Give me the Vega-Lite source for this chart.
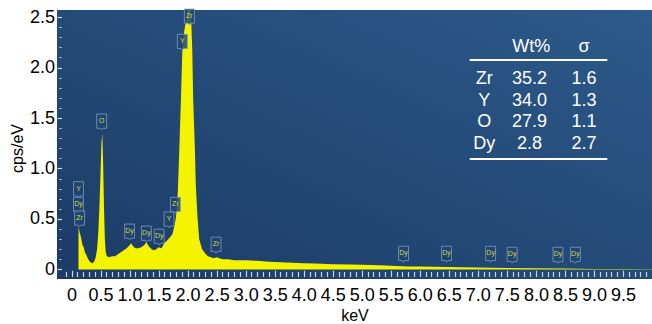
{
  "$schema": "https://vega.github.io/schema/vega-lite/v6.json",
  "width": 595,
  "height": 269,
  "autosize": "none",
  "padding": {"left": 57, "top": 10, "right": 0, "bottom": 45},
  "background": "white",
  "config": {
    "font": "Liberation Sans",
    "view": {
      "stroke": null,
      "fill": {"gradient": "linear", "x1": 0, "y1": 1, "x2": 1, "y2": 0,
        "stops": [{"offset": 0, "color": "#1c3b66"}, {"offset": 1, "color": "#2c5a8a"}]}
    },
    "axis": {
      "labelFont": "Liberation Sans", "labelFontSize": 18, "labelColor": "#000000",
      "titleFont": "Liberation Sans", "titleFontSize": 16, "titleFontWeight": "normal", "titleColor": "#000000",
      "domain": false, "grid": false, "tickColor": "#c9d6e6", "tickWidth": 1.2,
      "labelOverlap": false, "labelBound": false, "labelFlush": false
    }
  },
  "datasets": {
    "spectrum": [
      {"kev": 0.12, "cps": 0}, {"kev": 0.121, "cps": 0.42}, {"kev": 0.13, "cps": 0.4}, {"kev": 0.14, "cps": 0.36},
      {"kev": 0.15, "cps": 0.35}, {"kev": 0.17, "cps": 0.3}, {"kev": 0.19, "cps": 0.24}, {"kev": 0.21, "cps": 0.22},
      {"kev": 0.23, "cps": 0.17}, {"kev": 0.25, "cps": 0.15}, {"kev": 0.28, "cps": 0.11}, {"kev": 0.31, "cps": 0.08},
      {"kev": 0.34, "cps": 0.065}, {"kev": 0.36, "cps": 0.06}, {"kev": 0.38, "cps": 0.07}, {"kev": 0.4, "cps": 0.09},
      {"kev": 0.42, "cps": 0.13}, {"kev": 0.44, "cps": 0.2}, {"kev": 0.46, "cps": 0.35}, {"kev": 0.48, "cps": 0.6},
      {"kev": 0.5, "cps": 0.95}, {"kev": 0.515, "cps": 1.25}, {"kev": 0.53, "cps": 1.35}, {"kev": 0.545, "cps": 1.05},
      {"kev": 0.56, "cps": 0.6}, {"kev": 0.575, "cps": 0.3}, {"kev": 0.59, "cps": 0.17}, {"kev": 0.61, "cps": 0.13},
      {"kev": 0.65, "cps": 0.12}, {"kev": 0.7, "cps": 0.13}, {"kev": 0.75, "cps": 0.13}, {"kev": 0.8, "cps": 0.15},
      {"kev": 0.85, "cps": 0.17}, {"kev": 0.9, "cps": 0.19}, {"kev": 0.95, "cps": 0.21}, {"kev": 1.0, "cps": 0.24},
      {"kev": 1.03, "cps": 0.26}, {"kev": 1.06, "cps": 0.23}, {"kev": 1.1, "cps": 0.21}, {"kev": 1.15, "cps": 0.21},
      {"kev": 1.2, "cps": 0.22}, {"kev": 1.25, "cps": 0.24}, {"kev": 1.29, "cps": 0.27}, {"kev": 1.33, "cps": 0.23},
      {"kev": 1.38, "cps": 0.2}, {"kev": 1.42, "cps": 0.19}, {"kev": 1.46, "cps": 0.2}, {"kev": 1.5, "cps": 0.22},
      {"kev": 1.55, "cps": 0.21}, {"kev": 1.6, "cps": 0.26}, {"kev": 1.65, "cps": 0.29}, {"kev": 1.7, "cps": 0.32},
      {"kev": 1.74, "cps": 0.35}, {"kev": 1.78, "cps": 0.45}, {"kev": 1.8, "cps": 0.52}, {"kev": 1.83, "cps": 0.75},
      {"kev": 1.855, "cps": 1.15}, {"kev": 1.885, "cps": 1.69}, {"kev": 1.91, "cps": 2.18}, {"kev": 1.94, "cps": 2.35},
      {"kev": 1.975, "cps": 2.48}, {"kev": 2.0, "cps": 2.6}, {"kev": 2.03, "cps": 2.75}, {"kev": 2.06, "cps": 2.5},
      {"kev": 2.08, "cps": 2.18}, {"kev": 2.096, "cps": 1.69}, {"kev": 2.126, "cps": 1.18}, {"kev": 2.14, "cps": 0.85},
      {"kev": 2.17, "cps": 0.52}, {"kev": 2.2, "cps": 0.3}, {"kev": 2.25, "cps": 0.2}, {"kev": 2.3, "cps": 0.16},
      {"kev": 2.35, "cps": 0.13}, {"kev": 2.4, "cps": 0.12}, {"kev": 2.45, "cps": 0.11}, {"kev": 2.5, "cps": 0.12},
      {"kev": 2.6, "cps": 0.1}, {"kev": 2.7, "cps": 0.1}, {"kev": 2.8, "cps": 0.09}, {"kev": 3.0, "cps": 0.09},
      {"kev": 3.2, "cps": 0.085}, {"kev": 3.4, "cps": 0.075}, {"kev": 3.6, "cps": 0.07}, {"kev": 3.8, "cps": 0.065},
      {"kev": 4.0, "cps": 0.06}, {"kev": 4.2, "cps": 0.058}, {"kev": 4.5, "cps": 0.052}, {"kev": 4.8, "cps": 0.048},
      {"kev": 5.0, "cps": 0.045}, {"kev": 5.3, "cps": 0.04}, {"kev": 5.6, "cps": 0.035}, {"kev": 5.8, "cps": 0.03},
      {"kev": 6.0, "cps": 0.028}, {"kev": 6.5, "cps": 0.024}, {"kev": 7.0, "cps": 0.02}, {"kev": 7.5, "cps": 0.015},
      {"kev": 8.0, "cps": 0.012}, {"kev": 8.5, "cps": 0.008}, {"kev": 9.0, "cps": 0.005}, {"kev": 9.5, "cps": 0.003},
      {"kev": 10.0, "cps": 0.002}
    ],
    "peaks": [
      {"el": "Y", "kev": 0.12, "cps": 0.79}, {"el": "Dy", "kev": 0.12, "cps": 0.635}, {"el": "Zr", "kev": 0.14, "cps": 0.5},
      {"el": "O", "kev": 0.52, "cps": 1.46}, {"el": "Dy", "kev": 1.0, "cps": 0.37}, {"el": "Dy", "kev": 1.29, "cps": 0.35},
      {"el": "Dy", "kev": 1.51, "cps": 0.32}, {"el": "Y", "kev": 1.68, "cps": 0.49}, {"el": "Zr", "kev": 1.79, "cps": 0.635},
      {"el": "Zr", "kev": 2.49, "cps": 0.24}, {"el": "Y", "kev": 1.91, "cps": 2.25}, {"el": "Zr", "kev": 2.03, "cps": 2.5},
      {"el": "Dy", "kev": 5.72, "cps": 0.15}, {"el": "Dy", "kev": 6.46, "cps": 0.15}, {"el": "Dy", "kev": 7.22, "cps": 0.15},
      {"el": "Dy", "kev": 7.59, "cps": 0.14}, {"el": "Dy", "kev": 8.38, "cps": 0.14}, {"el": "Dy", "kev": 8.68, "cps": 0.14}
    ],
    "table": [
      {"el": "Zr", "wt": "35.2", "sd": "1.6", "row": 1},
      {"el": "Y", "wt": "34.0", "sd": "1.3", "row": 2},
      {"el": "O", "wt": "27.9", "sd": "1.1", "row": 3},
      {"el": "Dy", "wt": "2.8", "sd": "2.7", "row": 4}
    ]
  },
  "layer": [
    {
      "layer": [
        {
          "data": {"name": "spectrum"},
          "mark": {"type": "area", "color": "#f4f400", "clip": true, "interpolate": "linear"},
          "encoding": {
            "x": {"field": "kev", "type": "quantitative",
              "scale": {"domain": [-0.25, 10], "nice": false, "zero": false},
              "axis": {
                "title": "keV", "titleY": 31,
                "tickCount": 1000,
                "values": [-0.1,0,0.1,0.2,0.3,0.4,0.5,0.6,0.7,0.8,0.9,1,1.1,1.2,1.3,1.4,1.5,1.6,1.7,1.8,1.9,2,2.1,2.2,2.3,2.4,2.5,2.6,2.7,2.8,2.9,3,3.1,3.2,3.3,3.4,3.5,3.6,3.7,3.8,3.9,4,4.1,4.2,4.3,4.4,4.5,4.6,4.7,4.8,4.9,5,5.1,5.2,5.3,5.4,5.5,5.6,5.7,5.8,5.9,6,6.1,6.2,6.3,6.4,6.5,6.6,6.7,6.8,6.9,7,7.1,7.2,7.3,7.4,7.5,7.6,7.7,7.8,7.9,8,8.1,8.2,8.3,8.4,8.5,8.6,8.7,8.8,8.9,9,9.1,9.2,9.3,9.4,9.5,9.6,9.7,9.8,9.9],
                "labelExpr": "abs(datum.value*2 - round(datum.value*2)) < 0.001 && datum.value >= 0 && datum.value <= 9.5 ? (datum.value == 0 ? '0' : format(datum.value, '.1f')) : ''",
                "labelOverlap": false,
                "offset": -2.5,
                "tickSize": {"condition": {"test": "abs(datum.value*2 - round(datum.value*2)) < 0.001", "value": -6.3}, "value": -5},
                "labelPadding": 16
              }
            },
            "y": {"field": "cps", "type": "quantitative",
              "scale": {"domain": [-0.095, 2.57], "nice": false, "zero": false},
              "axis": {
                "title": "cps/eV", "titleX": -40, "titleY": 138, "titleBaseline": "middle",
                "tickCount": 1000,
                "values": [0,0.1,0.2,0.3,0.4,0.5,0.6,0.7,0.8,0.9,1,1.1,1.2,1.3,1.4,1.5,1.6,1.7,1.8,1.9,2,2.1,2.2,2.3,2.4,2.5],
                "labelExpr": "abs(datum.value*2 - round(datum.value*2)) < 0.001 ? (datum.value == 0 ? '0' : format(datum.value, '.1f')) : ''",
                "labelOverlap": false,
                "tickSize": {"condition": {"test": "abs(datum.value*2 - round(datum.value*2)) < 0.001", "value": -4.5}, "value": -4},
                "tickDash": {"condition": {"test": "abs(datum.value*2 - round(datum.value*2)) < 0.001", "value": [10, 0]}, "value": [0, 2, 2, 10]},
                "labelPadding": 7
              }
            },
            "y2": {"datum": 0}
          }
        },
        {
          "data": {"name": "peaks"},
          "mark": {"type": "point", "filled": true, "shape": "M-0.62,-1 L0.62,-1 L0.62,0.78 L0.15,0.78 L0,1 L-0.15,0.78 L-0.62,0.78 Z",
            "size": 256, "fill": "#22456f", "fillOpacity": 0.85, "stroke": "#7d9cc3", "strokeWidth": 0.8, "opacity": 1},
          "encoding": {
            "x": {"field": "kev", "type": "quantitative"},
            "y": {"field": "cps", "type": "quantitative"}
          }
        },
        {
          "data": {"name": "peaks"},
          "mark": {"type": "text", "fontSize": 7, "color": "#cfdc4e", "baseline": "middle", "align": "center", "dy": -1},
          "encoding": {
            "x": {"field": "kev", "type": "quantitative"},
            "y": {"field": "cps", "type": "quantitative"},
            "text": {"field": "el"}
          }
        }
      ]
    },
    {
      "layer": [
        {
          "data": {"name": "table"},
          "mark": {"type": "text", "fontSize": 18, "color": "white", "baseline": "middle", "align": "center"},
          "encoding": {
            "x": {"datum": 7.11, "type": "quantitative"},
            "y": {"field": "row", "type": "quantitative", "scale": {"domain": [-2.18, 10.217], "reverse": true, "nice": false, "zero": false}, "axis": null},
            "text": {"field": "el"}
          }
        },
        {
          "data": {"name": "table"},
          "mark": {"type": "text", "fontSize": 18, "color": "white", "baseline": "middle", "align": "center"},
          "encoding": {
            "x": {"datum": 7.89, "type": "quantitative"},
            "y": {"field": "row", "type": "quantitative", "axis": null},
            "text": {"field": "wt"}
          }
        },
        {
          "data": {"name": "table"},
          "mark": {"type": "text", "fontSize": 18, "color": "white", "baseline": "middle", "align": "center"},
          "encoding": {
            "x": {"datum": 8.83, "type": "quantitative"},
            "y": {"field": "row", "type": "quantitative", "axis": null},
            "text": {"field": "sd"}
          }
        },
        {
          "data": {"values": [{"h": "Wt%"}]},
          "mark": {"type": "text", "fontSize": 18, "color": "white", "baseline": "middle", "align": "center"},
          "encoding": {
            "x": {"datum": 7.92, "type": "quantitative"},
            "y": {"datum": -0.475, "type": "quantitative", "axis": null},
            "text": {"field": "h"}
          }
        },
        {
          "data": {"values": [{"h": "σ"}]},
          "mark": {"type": "text", "fontSize": 18, "color": "white", "baseline": "middle", "align": "center"},
          "encoding": {
            "x": {"datum": 8.83, "type": "quantitative"},
            "y": {"datum": -0.475, "type": "quantitative", "axis": null},
            "text": {"field": "h"}
          }
        },
        {
          "data": {"values": [{"r": 0.12}, {"r": 4.69}]},
          "mark": {"type": "rule", "color": "white", "strokeWidth": 2},
          "encoding": {
            "x": {"datum": 6.86, "type": "quantitative"},
            "x2": {"datum": 9.23},
            "y": {"field": "r", "type": "quantitative", "axis": null}
          }
        }
      ]
    }
  ],
  "resolve": {"scale": {"y": "independent"}}
}
